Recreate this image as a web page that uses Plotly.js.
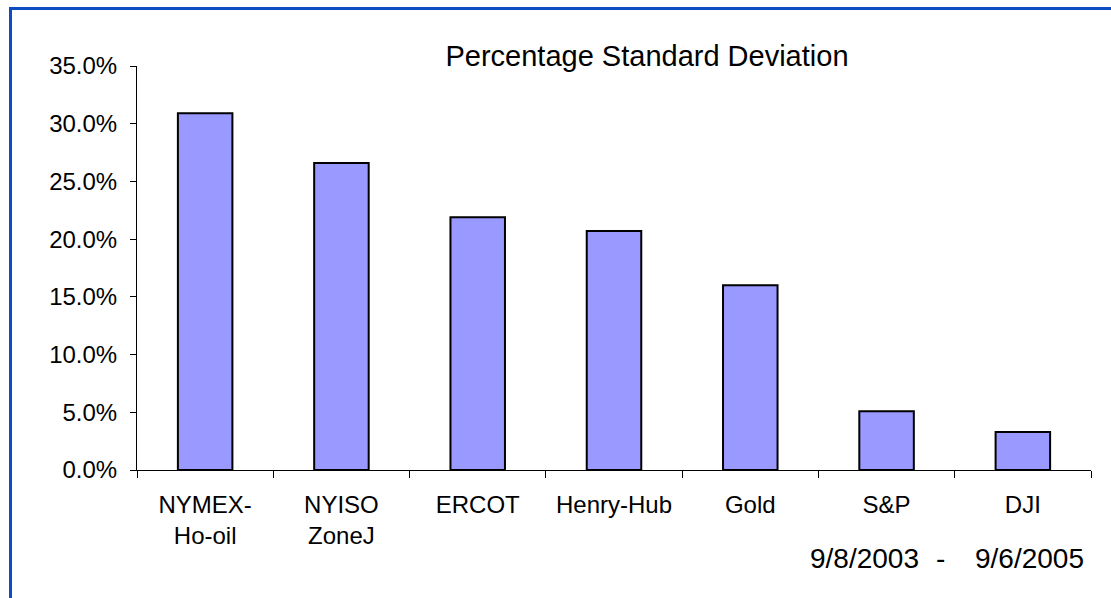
<!DOCTYPE html>
<html>
<head>
<meta charset="utf-8">
<script src="https://cdn.plot.ly/plotly-3.0.1.min.js"></script>
<style>
  html, body { margin: 0; padding: 0; background: #ffffff; }
  #wrap { position: relative; width: 1111px; height: 598px; overflow: hidden; }
  #chart { position: absolute; left: 0; top: 0; width: 1111px; height: 598px; }
  #frame { position: absolute; left: 9px; top: 7px; width: 1200px; height: 700px;
           border-top: 3px solid #0d4cc2; border-left: 3px solid #0d4cc2; pointer-events: none; }
</style>
</head>
<body>
<div id="wrap">
  <div id="chart"></div>
  <div id="frame"></div>
</div>
<script>
// Data
const categories = ["NYMEX-<br>Ho-oil", "NYISO<br>ZoneJ", "ERCOT", "Henry-Hub", "Gold", "S&P", "DJI"];
const stdDevValues = [0.309, 0.266, 0.219, 0.207, 0.160, 0.051, 0.033];
const yTickValues = [0, 0.05, 0.10, 0.15, 0.20, 0.25, 0.30, 0.35];
const chartTitle = "Percentage Standard Deviation";
const startDate = "9/8/2003";
const endDate = "9/6/2005";

const FONT = "'Liberation Sans', Arial, sans-serif";

const trace = {
  type: "bar",
  x: categories,
  y: stdDevValues,
  width: 0.4,
  marker: { color: "#9999FF", line: { color: "#000000", width: 2 } },
  hoverinfo: "x+y"
};

const layout = {
  width: 1111,
  height: 598,
  margin: { l: 137, r: 20, t: 66, b: 128 },
  paper_bgcolor: "#ffffff",
  plot_bgcolor: "#ffffff",
  showlegend: false,
  font: { family: FONT, color: "#000000", size: 24 },
  title: {
    text: chartTitle,
    font: { family: FONT, size: 29, color: "#000000" },
    x: 647 / 1111, xanchor: "center", xref: "container",
    y: 1 - 56 / 598, yanchor: "middle", yref: "container"
  },
  xaxis: {
    type: "category",
    showline: true, linecolor: "#000000", linewidth: 1,
    ticks: "outside", tickson: "boundaries", ticklen: 7, tickcolor: "#000000", tickwidth: 1,
    showgrid: false, zeroline: false,
    tickfont: { family: FONT, size: 24, color: "#000000" },
    ticklabelstandoff: 13,
    fixedrange: true
  },
  yaxis: {
    range: [0, 0.35],
    tickvals: yTickValues,
    tickformat: ".1%",
    showline: true, linecolor: "#000000", linewidth: 1,
    ticks: "outside", ticklen: 6, tickcolor: "#000000", tickwidth: 1,
    showgrid: false, zeroline: false,
    tickfont: { family: FONT, size: 24, color: "#000000" },
    ticklabelstandoff: 8,
    fixedrange: true
  },
  annotations: [
    { text: startDate, xref: "paper", yref: "paper", x: (864 - 137) / 954, y: (470 - 558) / 404,
      xanchor: "center", yanchor: "middle", showarrow: false, font: { family: FONT, size: 28, color: "#000000" } },
    { text: "-", xref: "paper", yref: "paper", x: (940 - 137) / 954, y: (470 - 558) / 404,
      xanchor: "center", yanchor: "middle", showarrow: false, font: { family: FONT, size: 28, color: "#000000" } },
    { text: endDate, xref: "paper", yref: "paper", x: (1029 - 137) / 954, y: (470 - 558) / 404,
      xanchor: "center", yanchor: "middle", showarrow: false, font: { family: FONT, size: 28, color: "#000000" } }
  ],
  bargap: 0.6
};

Plotly.newPlot("chart", [trace], layout, { displayModeBar: false, staticPlot: true });
</script>
</body>
</html>
